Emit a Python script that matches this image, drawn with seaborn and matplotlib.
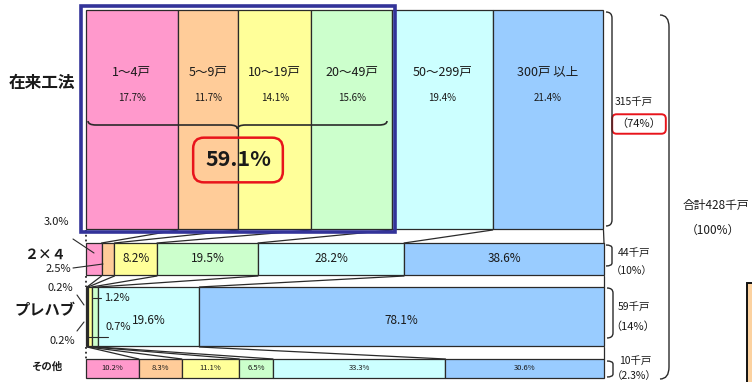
import numpy as np
import pandas as pd
import matplotlib
matplotlib.use("Agg")
import matplotlib.pyplot as plt
from matplotlib.path import Path
from matplotlib.patches import PathPatch, Rectangle
import seaborn as sns


#%% Data
row_names   = ["在来工法", "２×４", "プレハブ", "その他"]
size_labels = ["1～4戸", "5～9戸", "10～19戸", "20～49戸", "50～299戸", "300戸 以上"]

share_zairai = [17.7, 11.7, 14.1, 15.6, 19.4, 21.4]
share_2x4    = [3.0, 2.5, 8.2, 19.5, 28.2, 38.6]
share_prefab = [0.2, 0.2, 0.7, 1.2, 19.6, 78.1]
share_other  = [10.2, 8.3, 11.1, 6.5, 33.3, 30.6]

totals_sen   = [315, 44, 59, 10]          # 千戸
totals_pct   = ["74%", "10%", "14%", "2.3%"]
grand_total  = 428
small_share  = 59.1                        # 1～49戸 share of 在来工法

shares = [share_zairai, share_2x4, share_prefab, share_other]


#%% Layout (pixels on a 752 x 382 canvas)
Fig_W, Fig_H = 752, 382
Bar_Left_Px  = 86
Bar_Width_Px = 518
Row_Top      = [10, 243, 287, 359]
Row_Bottom   = [229, 275, 346, 378]

def X(px):
    # pixel -> percent axis
    return (px - Bar_Left_Px) * 100 / Bar_Width_Px

Palette     = sns.color_palette(["#ff99cc", "#ffcc99", "#ffff99", "#ccffcc", "#ccffff", "#99ccff"])
Edge_Color  = "#2a2a2a"
Text_Color  = "#1a1a1a"
Frame_Color = "#333399"
Red         = "#e8141b"

sns.set_style("white")
plt.rcParams['font.family'] = ['Noto Sans CJK JP', 'DejaVu Sans']

Fig = plt.figure(figsize=[Fig_W / 100, Fig_H / 100], dpi=100)
ax  = Fig.add_axes([0, 0, 1, 1])
ax.set_xlim(X(0), X(Fig_W))
ax.set_ylim(Fig_H, 0)
ax.axis("off")


#%% Long table
records = []
for r, (name, vals) in enumerate(zip(row_names, shares)):
    lefts = np.concatenate([[0], np.cumsum(vals)[:-1]])
    for k, (v, l) in enumerate(zip(vals, lefts)):
        records.append({"row": r, "name": name, "size": size_labels[k], "k": k,
                        "share": v, "left": l})
df = pd.DataFrame(records)


#%% Bars
for r in range(len(row_names)):
    d = df[df["row"] == r]
    ax.barh(y=(Row_Top[r] + Row_Bottom[r]) / 2,
            width=d["share"], left=d["left"],
            height=Row_Bottom[r] - Row_Top[r],
            color=[Palette[k] for k in d["k"]],
            edgecolor=Edge_Color, linewidth=0.9, zorder=2)


#%% Connecting lines between rows
for r in range(len(row_names) - 1):
    b_a = np.concatenate([[0], np.cumsum(shares[r])])
    b_b = np.concatenate([[0], np.cumsum(shares[r + 1])])
    for k, (a, b) in enumerate(zip(b_a, b_b)):
        ax.plot([a, b], [Row_Bottom[r] + 1, Row_Top[r + 1]],
                color=Edge_Color, linewidth=0.9 if k else 1.3,
                linestyle=":" if k == 0 else "-", zorder=1)


#%% Labels inside bars
d = df[df["row"] == 0]
for _, s in d.iterrows():
    cx = s["left"] + s["share"] / 2
    ax.text(cx, 72, s["size"], ha="center", va="center", fontsize=9, color=Text_Color, zorder=5)
    ax.text(cx, 98, "%.1f%%" % s["share"], ha="center", va="center", fontsize=7, color=Text_Color, zorder=5)

d = df[(df["row"] == 1) & (df["k"] >= 2)]
for _, s in d.iterrows():
    ax.text(s["left"] + s["share"] / 2, 259, "%.1f%%" % s["share"],
            ha="center", va="center", fontsize=8.5, color=Text_Color, zorder=5)

d = df[(df["row"] == 2) & (df["k"] >= 4)]
for _, s in d.iterrows():
    ax.text(s["left"] + s["share"] / 2, 321, "%.1f%%" % s["share"],
            ha="center", va="center", fontsize=8.5, color=Text_Color, zorder=5)

d = df[df["row"] == 3]
for _, s in d.iterrows():
    ax.text(s["left"] + s["share"] / 2, 368, "%.1f%%" % s["share"],
            ha="center", va="center", fontsize=5.5, color=Text_Color, zorder=5)


#%% Small-segment labels with leaders
Leader_Kw = dict(color=Edge_Color, linewidth=0.8, zorder=6)
ax.text(X(56), 222, "%.1f%%" % share_2x4[0], ha="center", va="center", fontsize=8, color=Text_Color)
ax.plot([X(73), X(94)], [239, 253], **Leader_Kw)
ax.text(X(58), 269, "%.1f%%" % share_2x4[1], ha="center", va="center", fontsize=8, color=Text_Color)
ax.plot([X(73), X(103)], [268, 264], **Leader_Kw)

ax.text(X(60), 288, "%.1f%%" % share_prefab[0], ha="center", va="center", fontsize=8, color=Text_Color)
ax.plot([X(77), X(84)], [295, 305], **Leader_Kw)
ax.text(X(62), 341, "%.1f%%" % share_prefab[1], ha="center", va="center", fontsize=8, color=Text_Color)
ax.plot([X(77), X(84)], [331, 322], **Leader_Kw)
ax.text(X(104), 298, "%.1f%%" % share_prefab[3], ha="left", va="center", fontsize=8, color=Text_Color, zorder=6)
ax.plot([X(93), X(101)], [298, 298], **Leader_Kw)
ax.text(X(105), 327, "%.1f%%" % share_prefab[2], ha="left", va="center", fontsize=8, color=Text_Color, zorder=6)
ax.plot([X(88), X(108)], [337, 337], **Leader_Kw)


#%% Row names
ax.text(X(42), 83, row_names[0], ha="center", va="center", fontsize=12, fontweight="bold", color=Text_Color)
ax.text(X(45), 255, row_names[1], ha="center", va="center", fontsize=10, fontweight="bold", color=Text_Color)
ax.text(X(45), 310, row_names[2], ha="center", va="center", fontsize=11, fontweight="bold", color=Text_Color)
ax.text(X(47), 367, row_names[3], ha="center", va="center", fontsize=7.5, fontweight="bold", color=Text_Color)


#%% Braces
def vbrace(x0, x1, y0, y1, r=6, lw=1.0):
    x0, x1 = X(x0), X(x1)
    verts = [(x0, y0), (x1, y0), (x1, y0 + r), (x1, y1 - r), (x1, y1), (x0, y1)]
    codes = [Path.MOVETO, Path.CURVE3, Path.CURVE3, Path.LINETO, Path.CURVE3, Path.CURVE3]
    ax.add_patch(PathPatch(Path(verts, codes), fill=False, edgecolor=Edge_Color, linewidth=lw, zorder=4))

def hbrace(xa, xb, y, h=4, r=8, lw=1.2):
    xm = (xa + xb) / 2
    pts = [(xa, y - h), (xa, y), (xa + r, y), (xm - r, y), (xm, y), (xm, y + h),
           (xm, y), (xm + r, y), (xb - r, y), (xb, y), (xb, y - h)]
    verts = [(X(px), py) for px, py in pts]
    codes = [Path.MOVETO, Path.CURVE3, Path.CURVE3, Path.LINETO, Path.CURVE3, Path.CURVE3,
             Path.CURVE3, Path.CURVE3, Path.LINETO, Path.CURVE3, Path.CURVE3]
    ax.add_patch(PathPatch(Path(verts, codes), fill=False, edgecolor=Edge_Color, linewidth=lw, zorder=4))

vbrace(606, 612, 12, 226)
vbrace(606, 612, 245, 266, r=3)
vbrace(607, 613, 288, 338, r=5)
vbrace(607, 613, 361, 377, r=3)
vbrace(660, 669, 15, 379, r=12)

hbrace(88, 387, 125)


#%% Right-side totals
Tot_Kw = dict(ha="center", va="center", color=Text_Color)
ax.text(X(634), 102, "%d千戸" % totals_sen[0], fontsize=7.5, **Tot_Kw)
ax.text(X(639), 124, "（%s）" % totals_pct[0], fontsize=8, **Tot_Kw,
        bbox=dict(boxstyle="round,pad=0.4,rounding_size=0.4", fc="none", ec=Red, lw=1.4))
ax.text(X(634), 253, "%d千戸" % totals_sen[1], fontsize=7.5, **Tot_Kw)
ax.text(X(632), 271, "（%s）" % totals_pct[1], fontsize=7.5, **Tot_Kw)
ax.text(X(634), 307, "%d千戸" % totals_sen[2], fontsize=7.5, **Tot_Kw)
ax.text(X(633), 327, "（%s）" % totals_pct[2], fontsize=8, **Tot_Kw)
ax.text(X(635), 361, "%d千戸" % totals_sen[3], fontsize=7.5, **Tot_Kw)
ax.text(X(634), 376, "（%s）" % totals_pct[3], fontsize=7.5, **Tot_Kw)
ax.text(X(716), 205, "合計%d千戸" % grand_total, fontsize=8.5, **Tot_Kw)
ax.text(X(713), 230, "（100%）", fontsize=8.5, **Tot_Kw)


#%% 59.1% highlight and frame
ax.text(X(238), 160, "%.1f%%" % small_share, ha="center", va="center",
        fontsize=15.5, fontweight="bold", color=Text_Color, zorder=6,
        bbox=dict(boxstyle="round,pad=0.55,rounding_size=0.5", fc="none", ec=Red, lw=1.8))

frame_right = sum(share_zairai[:4])
ax.add_patch(Rectangle((X(81), Row_Bottom[0] + 3), frame_right - X(81) + 0.5,
                       -(Row_Bottom[0] - Row_Top[0] + 7),
                       fill=False, edgecolor=Frame_Color, linewidth=2.6, zorder=7))

# partial box at the lower right edge
ax.add_patch(Rectangle((X(747), 283), X(790) - X(747), 120,
                       facecolor="#fcd2a0", edgecolor="#111111", linewidth=1.4, zorder=3))


Fig.savefig("out.png", dpi=100)
